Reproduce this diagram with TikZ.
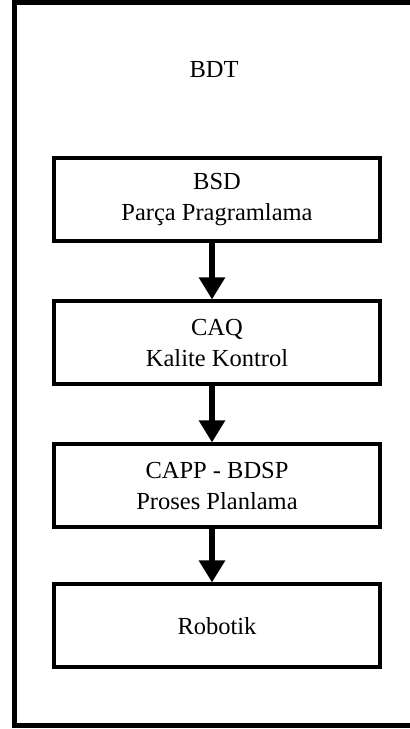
\documentclass[tikz,border=0pt]{standalone}
\usepackage{fontspec}
\setmainfont{Liberation Serif}
\usetikzlibrary{positioning,arrows.meta}
\tikzset{>={Triangle[width=25pt,length=22pt]}}
\tikzstyle{block} = [draw=black, line width=4pt, fill=white, rectangle, align=center, minimum height=83pt, minimum width=326pt, font=\fontsize{24.5}{31}\selectfont]
\tikzstyle{flow} = [->, line width=6pt]

\begin{document}
\begin{tikzpicture}[x=1pt, y=1pt]

    \useasboundingbox (0,0) rectangle (410,729);
    % outer frame, open on the right
    \begin{scope}
        \clip (0,0) rectangle (410,729);
        \draw[line width=5pt] (14.5,3.5) rectangle (440,726.5);
    \end{scope}

    \node[font=\fontsize{24.5}{31}\selectfont] (bdt) at (214,659) {BDT};

    \node[block] (bsd) at (217,529) {BSD\\ Parça Pragramlama};
    \node[block, below=56pt of bsd] (caq) {CAQ\\ Kalite Kontrol};
    \node[block, below=56pt of caq] (capp) {CAPP - BDSP\\ Proses Planlama};
    \node[block, below=53pt of capp] (robotik) {Robotik};

    \draw[flow] ([xshift=-5pt]bsd.south) -- ([xshift=-5pt]caq.north);
    \draw[flow] ([xshift=-5pt]caq.south) -- ([xshift=-5pt]capp.north);
    \draw[flow] ([xshift=-5pt]capp.south) -- ([xshift=-5pt]robotik.north);

\end{tikzpicture}
\end{document}
